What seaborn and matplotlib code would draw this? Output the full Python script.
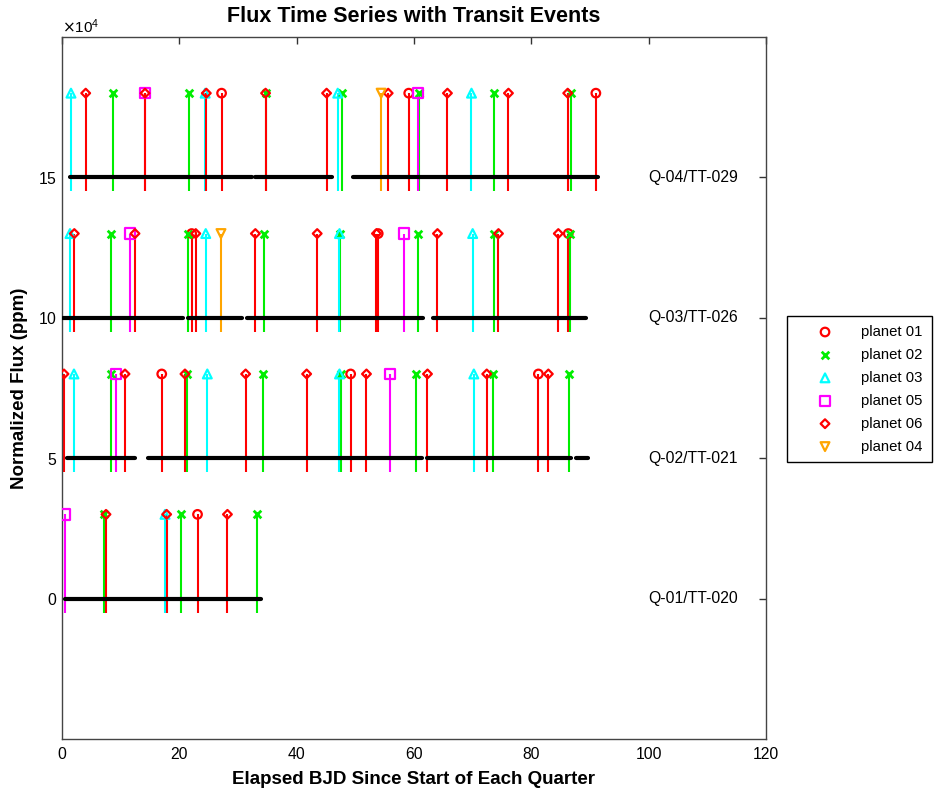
import numpy as np
import pandas as pd
import matplotlib
matplotlib.use('Agg')
import matplotlib.pyplot as plt
from matplotlib.ticker import ScalarFormatter
import seaborn as sns

# transit times (days since start of quarter) per quarter and planet
planets = ['planet 01', 'planet 02', 'planet 03', 'planet 05', 'planet 06', 'planet 04']

q01 = {'planet 01': [23.1],
       'planet 02': [7.16, 20.2, 33.2],
       'planet 03': [17.56],
       'planet 05': [0.5],
       'planet 06': [7.5, 17.84, 28.2],
       'planet 04': []}
q02 = {'planet 01': [17.0, 49.2, 81.2],
       'planet 02': [8.3, 21.25, 34.3, 47.5, 60.3, 73.4, 86.5],
       'planet 03': [2.04, 24.77, 47.3, 70.2],
       'planet 05': [9.2, 55.9],
       'planet 06': [0.34, 10.74, 20.96, 31.3, 41.7, 51.9, 62.3, 72.4, 82.9],
       'planet 04': []}
q03 = {'planet 01': [22.1, 53.9, 86.3],
       'planet 02': [8.35, 21.4, 34.4, 47.4, 60.6, 73.6, 86.6],
       'planet 03': [1.36, 24.5, 47.3, 70.0],
       'planet 05': [11.6, 58.3],
       'planet 06': [2.1, 12.44, 22.8, 32.96, 43.5, 53.6, 64.0, 74.4, 84.6],
       'planet 04': [27.1]}
q04 = {'planet 01': [27.2, 59.1, 91.0],
       'planet 02': [8.64, 21.59, 34.8, 47.8, 60.8, 73.6, 86.8],
       'planet 03': [1.53, 24.4, 47.0, 69.8],
       'planet 05': [14.1, 60.7],
       'planet 06': [4.04, 14.15, 24.6, 34.7, 45.1, 55.6, 65.7, 76.1, 86.2],
       'planet 04': [54.4]}

quarter_labels = ['Q-01/TT-020', 'Q-02/TT-021', 'Q-03/TT-026', 'Q-04/TT-029']
offsets = [0, 50000, 100000, 150000]

# flux coverage segments (start, end) per quarter
flux_q01 = [(0.5, 34.0)]
flux_q02 = [(0.8, 12.4), (14.7, 61.3), (62.3, 86.8), (87.6, 89.6)]
flux_q03 = [(0.2, 20.7), (21.5, 30.6), (31.5, 61.6), (63.2, 89.4)]
flux_q04 = [(1.4, 32.4), (32.9, 46.0), (49.6, 91.4)]

colors = {'planet 01': '#ff0000', 'planet 02': '#00ee00', 'planet 03': '#00ffff',
          'planet 05': '#ff00ff', 'planet 06': '#ff0000', 'planet 04': '#ffa500'}
markers = {'planet 01': 'o', 'planet 02': 'x', 'planet 03': '^',
           'planet 05': 's', 'planet 06': 'D', 'planet 04': 'v'}
sizes = {'planet 01': 38, 'planet 02': 30, 'planet 03': 40,
         'planet 05': 55, 'planet 06': 20, 'planet 04': 40}

# build long tables
rows = []
for q, off in zip([q01, q02, q03, q04], offsets):
    for p in planets:
        for t in q[p]:
            rows.append({'planet': p, 'time': t, 'base': off})
transits = pd.DataFrame(rows)

frows = []
seg = 0
for segs, off in zip([flux_q01, flux_q02, flux_q03, flux_q04], offsets):
    for a, b in segs:
        frows.append({'seg': seg, 'time': a, 'flux': off})
        frows.append({'seg': seg, 'time': b, 'flux': off})
        seg += 1
flux = pd.DataFrame(frows)

sns.set_style('white')
plt.rcParams['font.family'] = ['Liberation Sans', 'DejaVu Sans']
plt.rcParams['text.color'] = 'black'
plt.rcParams['axes.labelcolor'] = 'black'

fig = plt.figure(figsize=(9.34, 7.94), dpi=100)
ax = fig.add_axes([62 / 934, 1 - 739 / 794, (766 - 62) / 934, (739 - 37) / 794])

top_h = 30000
low_h = 5000

for p in planets:
    d = transits[transits['planet'] == p]
    ax.vlines(d['time'], d['base'] - low_h, d['base'] + top_h,
              color=colors[p], lw=1.5, zorder=2)
    if markers[p] == 'x':
        sns.scatterplot(x=d['time'], y=d['base'] + top_h, marker='x', s=sizes[p],
                        color=colors[p], linewidth=2, ax=ax, label=p, zorder=3)
    else:
        sns.scatterplot(x=d['time'], y=d['base'] + top_h, marker=markers[p], s=sizes[p],
                        facecolor='none', edgecolor=colors[p], linewidth=1.6,
                        ax=ax, label=p, zorder=3)

sns.lineplot(data=flux, x='time', y='flux', units='seg', estimator=None,
             color='black', lw=3, ax=ax, zorder=4, legend=False)

for lab, off in zip(quarter_labels, offsets):
    ax.text(100, off, lab, va='center', ha='left', fontsize=11.3, color='black')

ax.set_xlim(0, 120)
ax.set_ylim(-50000, 200000)
ax.set_xticks([0, 20, 40, 60, 80, 100, 120])
ax.set_yticks(offsets)
fmt = ScalarFormatter(useMathText=True)
fmt.set_powerlimits((4, 4))
ax.yaxis.set_major_formatter(fmt)
ax.yaxis.get_offset_text().set_fontsize(11)
ax.tick_params(direction='in', top=True, right=True, length=5, width=1,
               labelsize=11.3, colors='#333333', labelcolor='black')
ax.tick_params(axis='x', pad=6)
for s in ax.spines.values():
    s.set_color('#444444')
    s.set_linewidth(1)

ax.set_title('Flux Time Series with Transit Events', fontsize=15.5, fontweight='bold',
             pad=11, color='black')
ax.set_xlabel('Elapsed BJD Since Start of Each Quarter', fontsize=13.5, fontweight='bold', labelpad=6)
ax.set_ylabel('Normalized Flux (ppm)', fontsize=13.5, fontweight='bold', labelpad=7)

leg = ax.legend(loc='upper left', bbox_to_anchor=(1.03, (739 - 316) / 702),
                bbox_transform=ax.transAxes, borderaxespad=0, fontsize=10.7,
                fancybox=False, framealpha=1, edgecolor='black',
                handlelength=3.9, handletextpad=0.5, labelspacing=0.6,
                borderpad=0.6)
leg.get_frame().set_linewidth(1)

fig.savefig('out.png', dpi=100)
